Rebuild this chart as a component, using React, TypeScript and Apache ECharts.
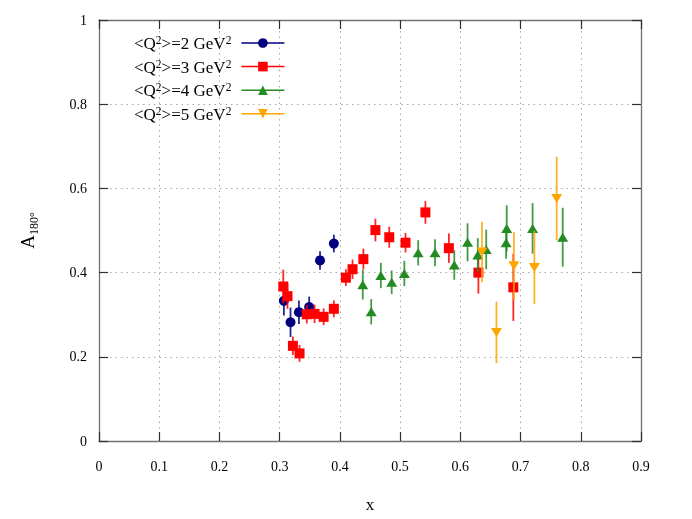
import React, { useEffect, useRef } from "react";
import * as echarts from "echarts";

const seriesNames = ["<Q²>=2 GeV²", "<Q²>=3 GeV²", "<Q²>=4 GeV²", "<Q²>=5 GeV²"];
const legendRich = [
  "{t|<Q}{s|2}{t|>=2 GeV}{s|2}{g|}",
  "{t|<Q}{s|2}{t|>=3 GeV}{s|2}{g|}",
  "{t|<Q}{s|2}{t|>=4 GeV}{s|2}{g|}",
  "{t|<Q}{s|2}{t|>=5 GeV}{s|2}{g|}",
];

const q2x = [0.307, 0.318, 0.332, 0.349, 0.367, 0.39];
const q2y = [0.333, 0.282, 0.306, 0.318, 0.429, 0.469];
const q2e = [0.035, 0.035, 0.028, 0.025, 0.022, 0.021];

const q3x = [0.306, 0.313, 0.322, 0.333, 0.345, 0.358, 0.373, 0.39, 0.41, 0.421, 0.439, 0.459, 0.482, 0.509, 0.542, 0.581, 0.63, 0.688];
const q3y = [0.367, 0.344, 0.226, 0.208, 0.301, 0.302, 0.295, 0.314, 0.388, 0.408, 0.432, 0.501, 0.484, 0.471, 0.543, 0.458, 0.4, 0.365];
const q3e = [0.04, 0.03, 0.022, 0.02, 0.022, 0.022, 0.02, 0.02, 0.02, 0.023, 0.025, 0.027, 0.025, 0.023, 0.027, 0.035, 0.05, 0.08];

const q4x = [0.438, 0.452, 0.468, 0.486, 0.507, 0.53, 0.558, 0.59, 0.612, 0.629, 0.643, 0.676, 0.677, 0.72, 0.77];
const q4y = [0.371, 0.307, 0.393, 0.377, 0.398, 0.447, 0.447, 0.418, 0.472, 0.442, 0.455, 0.471, 0.505, 0.505, 0.484];
const q4e = [0.035, 0.03, 0.03, 0.028, 0.03, 0.03, 0.032, 0.035, 0.045, 0.04, 0.047, 0.038, 0.055, 0.06, 0.07];

const q5x = [0.636, 0.66, 0.689, 0.723, 0.76];
const q5y = [0.449, 0.258, 0.416, 0.412, 0.576];
const q5e = [0.072, 0.073, 0.08, 0.087, 0.099];

const colors = ["#00007f", "#ff0000", "#228b22", "#ffa500"];
const symbols = ["circle", "rect", "triangle", "triangle"];
const symbolSizes: any[] = [10, 10, [11, 9], [11, 9]];
const symbolRotates = [0, 0, 0, 180];

const FONT = "Liberation Serif";

export default function App() {
  const ref = useRef<HTMLDivElement>(null);
  useEffect(() => {
    const chart = echarts.init(ref.current!, null, { renderer: "svg" });
    const groups = [
      [q2x, q2y, q2e],
      [q3x, q3y, q3e],
      [q4x, q4y, q4e],
      [q5x, q5y, q5e],
    ];
    const series: any[] = [];
    groups.forEach((g, i) => {
      const [xs, ys, es] = g;
      const data = xs.map((x, k) => [x, ys[k], es[k]]);
      series.push({
        type: "custom",
        name: "err" + i,
        data,
        encode: { x: 0, y: 1 },
        z: 2 + i * 2,
        renderItem: (params: any, api: any) => {
          const x = api.value(0);
          const y = api.value(1);
          const e = api.value(2);
          const p1 = api.coord([x, y - e]);
          const p2 = api.coord([x, y + e]);
          return {
            type: "line",
            shape: { x1: p1[0], y1: p1[1], x2: p2[0], y2: p2[1] },
            style: { stroke: colors[i], lineWidth: 1.8, opacity: 0.85 },
          };
        },
      });
      series.push({
        type: "line",
        name: seriesNames[i],
        data: data.map((d) => [d[0], d[1]]),
        z: 3 + i * 2,
        symbol: symbols[i],
        symbolSize: symbolSizes[i],
        symbolRotate: symbolRotates[i],
        showSymbol: true,
        lineStyle: { width: 0, opacity: 0 },
        itemStyle: { color: colors[i] },
        emphasis: { disabled: true },
      });
    });

    const axisLine = { show: true, onZero: false, lineStyle: { color: "#707070", width: 1.3 } };
    const axisTick = { show: true, inside: true, length: 9, lineStyle: { color: "#303030", width: 1.2 } };
    const gridLine = { show: true, lineStyle: { color: "#a8a8a8", type: [1.5, 4], width: 1 } };

    chart.setOption({
      animation: false,
      textStyle: { fontFamily: FONT },
      grid: { left: 99, right: 51, top: 20, bottom: 78 },
      legend: {
        data: seriesNames,
        orient: "vertical",
        align: "right",
        left: 134,
        top: 34,
        padding: 0,
        itemWidth: 43,
        itemHeight: 12,
        itemGap: 5.6,
        lineStyle: { width: 1.5, opacity: 1 },
        formatter: (name: string) => legendRich[seriesNames.indexOf(name)],
        textStyle: {
          fontFamily: FONT,
          color: "#000",
          rich: {
            t: { fontSize: 17, fontFamily: FONT, color: "#000", lineHeight: 18, verticalAlign: "bottom" },
            s: { fontSize: 11.5, fontFamily: FONT, color: "#000", lineHeight: 18, verticalAlign: "top" },
            g: { width: 5 },
          },
        },
      },
      xAxis: [
        {
          type: "value",
          min: 0,
          max: 0.9,
          interval: 0.1,
          name: "x",
          nameLocation: "middle",
          nameGap: 55,
          nameTextStyle: { fontSize: 17, fontFamily: FONT, color: "#000" },
          axisLine,
          axisTick,
          axisLabel: { fontSize: 14, fontFamily: FONT, color: "#000", margin: 18 },
          splitLine: gridLine,
        },
        {
          type: "value",
          position: "top",
          min: 0,
          max: 0.9,
          interval: 0.1,
          axisLine,
          axisTick,
          axisLabel: { show: false },
          splitLine: { show: false },
        },
      ],
      yAxis: [
        {
          type: "value",
          min: 0,
          max: 1,
          interval: 0.2,
          name: "{a|A}{b|180°}",
          nameLocation: "middle",
          nameGap: 59,
          nameRotate: 90,
          nameTextStyle: {
            rich: {
              a: { fontSize: 19, fontFamily: FONT, color: "#000", lineHeight: 22, verticalAlign: "top" },
              b: { fontSize: 12, fontFamily: FONT, color: "#000", lineHeight: 22, verticalAlign: "bottom", padding: [8, 0, 0, 0] },
            },
          },
          axisLine,
          axisTick,
          axisLabel: { fontSize: 14, fontFamily: FONT, color: "#000", margin: 12 },
          splitLine: gridLine,
        },
        {
          type: "value",
          position: "right",
          min: 0,
          max: 1,
          interval: 0.2,
          axisLine,
          axisTick,
          axisLabel: { show: false },
          splitLine: { show: false },
        },
      ],
      series,
    });
    return () => chart.dispose();
  }, []);
  return <div ref={ref} style={{ position: "fixed", left: 0, top: 0, width: 692, height: 519 }} />;
}
